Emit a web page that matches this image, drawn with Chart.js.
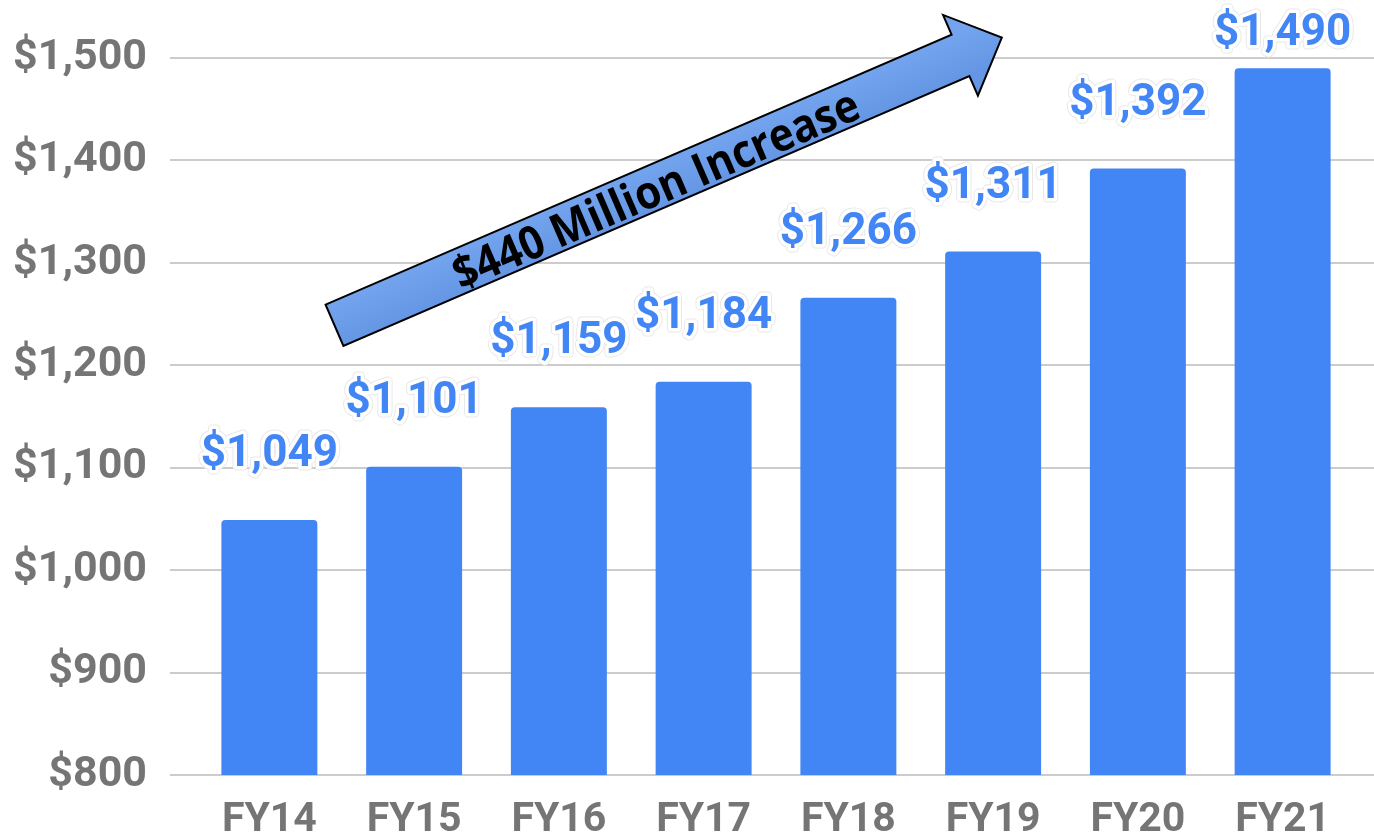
<!DOCTYPE html>
<html>
<head>
<meta charset="utf-8">
<script src="https://cdn.jsdelivr.net/npm/chart.js@4"></script>
<style>
  body { margin: 0; background: #fff; overflow: hidden; }
  canvas { display: block; }
</style>
</head>
<body>
<canvas id="chartBudget" width="1374" height="836"></canvas>
<script>
// data
const categories = ['FY14', 'FY15', 'FY16', 'FY17', 'FY18', 'FY19', 'FY20', 'FY21'];
const budget = [1049, 1101, 1159, 1184, 1266, 1311, 1392, 1490];
const yTickValues = [800, 900, 1000, 1100, 1200, 1300, 1400, 1500];
const arrowText = '$440 Million Increase';

const BLUE = '#4285F4';
const GREY = '#757575';
const FONT = 'Roboto, "Noto Sans", sans-serif';

function money(v) {
  return '$' + Number(v).toLocaleString('en-US');
}

// grid lines reach past the plot area on both sides
const gridPlugin = {
  id: 'wideGrid',
  beforeDatasetsDraw(chart) {
    const ctx = chart.ctx;
    const y = chart.scales.y;
    ctx.save();
    ctx.strokeStyle = '#cccccc';
    ctx.lineWidth = 2;
    y.ticks.forEach((t) => {
      const py = Math.round(y.getPixelForValue(t.value));
      ctx.beginPath();
      ctx.moveTo(chart.chartArea.left - 27, py);
      ctx.lineTo(chart.width, py);
      ctx.stroke();
    });
    ctx.restore();
  }
};

// the big "increase" arrow, anchored on the scales
const arrowPlugin = {
  id: 'increaseArrow',
  afterDatasetsDraw(chart) {
    const ctx = chart.ctx;
    const xs = chart.scales.x, ys = chart.scales.y;
    const x0 = xs.getPixelForValue(0.45), y0 = ys.getPixelForValue(1239);
    const x1 = xs.getPixelForValue(5.06), y1 = ys.getPixelForValue(1520);
    const len = Math.hypot(x1 - x0, y1 - y0);
    const ang = Math.atan2(y1 - y0, x1 - x0);
    const bodyW = 45, headW = 88, headL = 45;

    ctx.save();
    ctx.translate(x0, y0);
    ctx.rotate(ang);
    const grad = ctx.createLinearGradient(0, -bodyW / 2, 0, bodyW / 2);
    grad.addColorStop(0, '#74a4ee');
    grad.addColorStop(1, '#6496e4');
    ctx.beginPath();
    ctx.moveTo(0, -bodyW / 2);
    ctx.lineTo(len - headL, -bodyW / 2);
    ctx.lineTo(len - headL, -headW / 2);
    ctx.lineTo(len, 0);
    ctx.lineTo(len - headL, headW / 2);
    ctx.lineTo(len - headL, bodyW / 2);
    ctx.lineTo(0, bodyW / 2);
    ctx.closePath();
    ctx.fillStyle = grad;
    ctx.fill();
    ctx.lineWidth = 2;
    ctx.strokeStyle = '#000';
    ctx.stroke();

    // text squeezed to the length it has in the picture
    ctx.fillStyle = '#000';
    ctx.font = 'bold 46px "Open Sans", sans-serif';
    ctx.textAlign = 'center';
    ctx.textBaseline = 'middle';
    const w = ctx.measureText(arrowText).width;
    ctx.translate(len * 0.48, 5);
    ctx.scale(438 / w, 1);
    ctx.fillText(arrowText, 0, 0);
    ctx.restore();
  }
};

// value labels above bars, blue with a white halo
const valuePlugin = {
  id: 'valueLabels',
  afterDraw(chart) {
    const ctx = chart.ctx;
    const meta = chart.getDatasetMeta(0);
    ctx.save();
    ctx.font = 'bold 44px ' + FONT;
    ctx.textAlign = 'center';
    ctx.textBaseline = 'middle';
    ctx.lineJoin = 'round';
    meta.data.forEach((bar, i) => {
      const txt = money(budget[i]);
      const ty = Math.max(bar.y - 65, 34);
      ctx.strokeStyle = '#e8e8e8';
      ctx.lineWidth = 9;
      ctx.strokeText(txt, bar.x, ty);
      ctx.strokeStyle = '#ffffff';
      ctx.lineWidth = 7;
      ctx.strokeText(txt, bar.x, ty);
      ctx.fillStyle = BLUE;
      ctx.fillText(txt, bar.x, ty);
    });
    ctx.restore();
  }
};

const ctb = document.getElementById('chartBudget');
const chartBudget = new Chart(ctb, {
  type: 'bar',
  data: {
    labels: categories,
    datasets: [{
      data: budget,
      backgroundColor: BLUE,
      borderWidth: 0,
      borderRadius: 4,
      categoryPercentage: 1,
      barPercentage: 0.663
    }]
  },
  options: {
    responsive: false,
    animation: { duration: 0 },
    layout: { padding: { top: 58, right: 19, left: 0, bottom: 0 } },
    plugins: {
      legend: { display: false },
      tooltip: { enabled: false }
    },
    scales: {
      x: {
        grid: { display: false, drawTicks: false },
        border: { display: false },
        ticks: {
          color: GREY,
          padding: 21,
          font: { family: FONT, size: 41, weight: 'bold' }
        },
        afterFit(scale) { scale.height = 61; }
      },
      y: {
        min: 800,
        max: 1500,
        // invisible grid only to push the labels away from the plot
        grid: { color: 'rgba(0,0,0,0)', drawTicks: true, tickLength: 42 },
        border: { display: false },
        afterBuildTicks(scale) {
          scale.ticks = yTickValues.map((v) => ({ value: v }));
        },
        ticks: {
          color: GREY,
          padding: 8,
          font: { family: FONT, size: 43, weight: 'bold' },
          callback: (v) => money(v)
        },
        afterFit(scale) { scale.width = 197; }
      }
    }
  },
  plugins: [gridPlugin, arrowPlugin, valuePlugin]
});
</script>
</body>
</html>
